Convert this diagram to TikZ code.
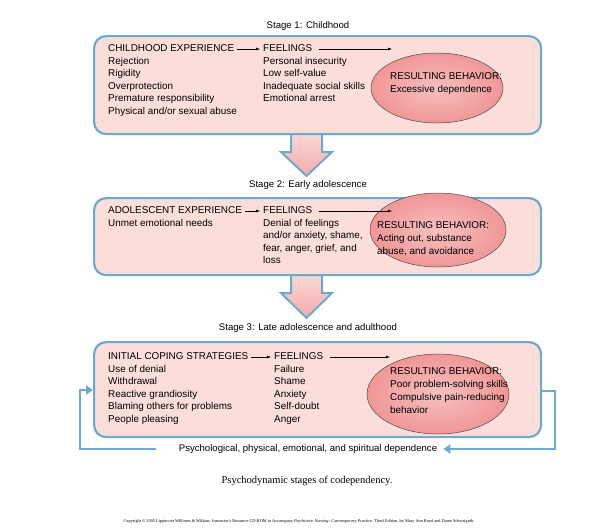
\documentclass[tikz,border=0pt]{standalone}
\usepackage{fontspec}
\setmainfont{Liberation Sans}
\newfontfamily\serifc{Liberation Serif}
\usetikzlibrary{arrows.meta,shapes.geometric}
\definecolor{bfill}{RGB}{251,222,218}
\definecolor{bline}{RGB}{110,170,205}
\definecolor{efill}{RGB}{240,150,150}
\tikzset{
 stage/.style={draw=bline,line width=2.2pt,fill=bfill,rounded corners=12pt},
 ell/.style={draw=black!70,line width=0.5pt,inner color=efill!60,outer color=efill},
 txt/.style={anchor=west,font=\fontsize{9.9}{11}\selectfont,inner sep=0pt,text height=7pt,text depth=2pt},
 ctr/.style={font=\fontsize{9.6}{11}\selectfont,inner sep=0pt},
 sm/.style={-{Latex[length=4pt,width=3pt]},line width=0.5pt},
 big/.style={draw=bline,line width=2pt,top color=bfill,bottom color=efill!80},
 fb/.style={draw=bline,line width=2pt}
}
\begin{document}
\begin{tikzpicture}[x=1pt,y=-1pt]
\useasboundingbox (0,0) rectangle (600,531);
% arrows between stages
\path[big] (291,128)--(322,128)--(322,152)--(332,152)--(306.5,176)--(281,152)--(291,152)--cycle;
\path[big] (291,268)--(322,268)--(322,293)--(332,293)--(306.5,318)--(281,293)--(291,293)--cycle;
% boxes
\node[stage,minimum width=447,minimum height=98,anchor=north west] (b1) at (93,35) {};
\node[stage,minimum width=447,minimum height=77,anchor=north west] (b2) at (93,197) {};
\node[stage,minimum width=447,minimum height=95,anchor=north west] (b3) at (93,341) {};
\node[ctr] (s1) at (308,26) {Stage 1: Childhood};
\node[ctr] (s2) at (308,185) {Stage 2: Early adolescence};
\node[ctr] (s3) at (308,328) {Stage 3: Late adolescence and adulthood};
% ellipses
\node[ell,ellipse,minimum width=132,minimum height=70,inner sep=0pt] (e1) at (437,88) {};
\node[ell,ellipse,minimum width=136,minimum height=74,inner sep=0pt] (e2) at (438,230) {};
\node[ell,ellipse,minimum width=142,minimum height=80,inner sep=0pt] (e3) at (438,394) {};
% stage 1 text
\node[txt] (h1) at (108,49) {CHILDHOOD EXPERIENCE};
\node[txt] (f1) at (263,49) {FEELINGS};
\coordinate (t1) at (392,49);
\draw[sm] ([xshift=3]h1.east) -- ([xshift=-3]f1.west);
\draw[sm] ([xshift=7]f1.east) -- (t1);
\foreach \t [count=\i] in {Rejection,Rigidity,Overprotection,Premature responsibility,Physical and/or sexual abuse}
  \node[txt] (l1\i) at (108,49+12.6*\i) {\t};
\foreach \t [count=\i] in {Personal insecurity,Low self-value,Inadequate social skills,Emotional arrest}
  \node[txt] (g1\i) at (263,49+12.6*\i) {\t};
\node[txt] (r1a) at (390,77) {RESULTING BEHAVIOR:};
\node[txt] (r1b) at (390,90) {Excessive dependence};
% stage 2
\node[txt] (h2) at (108,211) {ADOLESCENT EXPERIENCE};
\node[txt] (f2) at (263,211) {FEELINGS};
\coordinate (t2) at (392,211);
\draw[sm] ([xshift=3]h2.east) -- ([xshift=-3]f2.west);
\draw[sm] ([xshift=7]f2.east) -- (t2);
\node[txt] (l21) at (108,223.6) {Unmet emotional needs};
\foreach \t [count=\i] in {Denial of feelings,{and/or anxiety, shame,},{fear, anger, grief, and},loss}
  \node[txt] (g2\i) at (263,211+12.6*\i) {\t};
\node[txt] (r2a) at (377,226) {RESULTING BEHAVIOR:};
\node[txt] (r2b) at (377,239) {Acting out, substance};
\node[txt] (r2c) at (377,252) {abuse, and avoidance};
% stage 3
\node[txt] (h3) at (108,357) {INITIAL COPING STRATEGIES};
\node[txt] (f3) at (274,357) {FEELINGS};
\coordinate (t3) at (390,357);
\draw[sm] ([xshift=3]h3.east) -- ([xshift=-3]f3.west);
\draw[sm] ([xshift=7]f3.east) -- (t3);
\foreach \t [count=\i] in {Use of denial,Withdrawal,Reactive grandiosity,Blaming others for problems,People pleasing}
  \node[txt] (l3\i) at (108,357+12.6*\i) {\t};
\foreach \t [count=\i] in {Failure,Shame,Anxiety,Self-doubt,Anger}
  \node[txt] (g3\i) at (274,357+12.6*\i) {\t};
\node[txt] (r3a) at (390,372) {RESULTING BEHAVIOR:};
\node[txt] (r3b) at (390,385) {Poor problem-solving skills};
\node[txt] (r3c) at (390,398) {Compulsive pain-reducing};
\node[txt] (r3d) at (390,411) {behavior};
% feedback loop
\node[ctr] (dep) at (308,449) {Psychological, physical, emotional, and spiritual dependence};
\coordinate (c1) at (541,391);
\coordinate (c2) at (555,391);
\coordinate (c3) at (555,449);
\coordinate (c4) at (156,449);
\coordinate (c5) at (80,449);
\coordinate (c6) at (80,390);
\coordinate (c7) at (93,390);
\draw[fb,-{Triangle[length=7pt,width=9pt]}] (c1)--(c2)--(c3)--([xshift=6]dep.east);
\draw[fb,-{Triangle[length=7pt,width=9pt]}] (c4)--(c5)--(c6)--(c7);
% caption
\node[font=\serifc\fontsize{10.5}{12}\selectfont] (cap) at (307,481) {Psychodynamic stages of codependency.};
\node[font=\serifc\fontsize{4.3}{5}\selectfont] (copy) at (299,521) {Copyright \textcopyright\ 2005 Lippincott Williams \& Wilkins. Instructor's Resource CD-ROM to Accompany \textit{Psychiatric Nursing: Contemporary Practice}, Third Edition, by Mary Ann Boyd and Diane Schweiguth.};
\end{tikzpicture}
\end{document}
